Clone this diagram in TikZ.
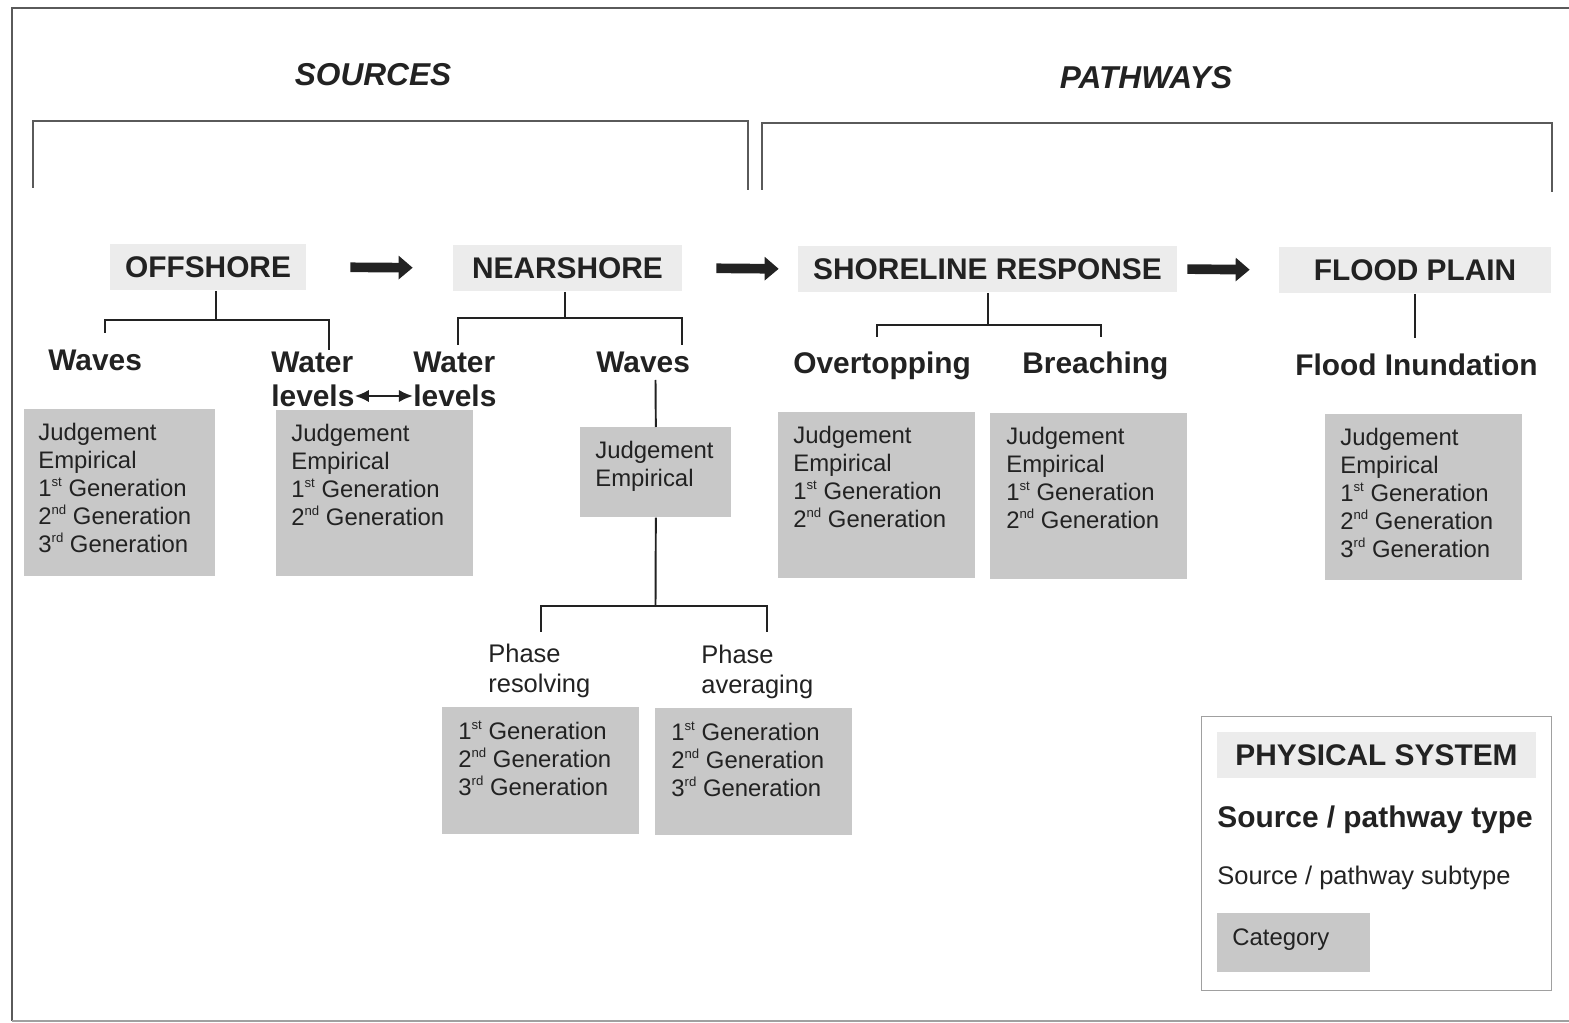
\documentclass[tikz,border=0pt]{standalone}
\usepackage{fontspec}
\setmainfont{Liberation Sans}
\usetikzlibrary{arrows.meta, positioning}

\definecolor{inkgray}{HTML}{222222}
\definecolor{hdrfill}{HTML}{ECECEC}
\definecolor{catfill}{HTML}{C8C8C8}
\definecolor{framegray}{HTML}{5A5A5A}
\definecolor{leggray}{HTML}{A0A0A0}

\newcommand{\gen}[2]{#1\raisebox{0.42em}{\fontsize{7.5}{8}\selectfont #2} Generation}

\tikzset{
  title/.style={font=\fontsize{18}{20}\selectfont\bfseries\itshape, text=inkgray},
  hdr/.style={fill=hdrfill, text=inkgray, font=\fontsize{17}{19}\selectfont\bfseries, minimum height=0.94cm, inner sep=0pt},
  typelbl/.style={anchor=west, inner sep=0pt, align=left, text=inkgray, font=\fontsize{17}{19.3}\selectfont\bfseries},
  sublbl/.style={anchor=west, inner sep=0pt, align=left, text=inkgray, font=\fontsize{14.5}{17}\selectfont},
  catbox/.style={anchor=north west, fill=catfill, minimum width=3.94cm, minimum height=3.32cm, inner sep=0pt},
  catlines/.style={anchor=north west, inner sep=0pt, align=left, text=inkgray, font=\fontsize{13.6}{15.9}\selectfont},
  tree/.style={draw=inkgray, line width=1.1pt},
  bigarrow/.style={draw=inkgray, line width=5.5pt, -{Triangle[length=8pt, width=13pt]}},
  dblarrow/.style={draw=inkgray, line width=1.3pt, {Latex[length=8pt, width=7pt]}-{Latex[length=8pt, width=7pt]}}
}

\begin{document}
\begin{tikzpicture}[x=0.02cm, y=-0.02cm]
        \useasboundingbox (0,0) rectangle (1569,1023);

        % Frame and brackets
        \draw[framegray, line width=1.2pt] (1569,8) -- (12,8) -- (12,1021);
        \draw[leggray, line width=0.8pt] (12,1021) -- (1569,1021);
        \draw[framegray, line width=1.1pt] (33,188) |- (748,121) -- (748,190);
        \draw[framegray, line width=1.1pt] (762,190) |- (1552,123) -- (1552,192);

        % Titles
        \node[title] (srctitle) at (373,75) {SOURCES};
        \node[title] (pathtitle) at (1146,78) {PATHWAYS};

        % Physical systems
        \node[hdr, minimum width=3.92cm] (offshore) at (208,267) {OFFSHORE};
        \node[hdr, minimum width=4.58cm] (nearshore) at (567.5,268) {NEARSHORE};
        \node[hdr, minimum width=7.58cm] (shoreline) at (987.5,269) {SHORELINE RESPONSE};
        \node[hdr, minimum width=5.44cm] (flood) at (1415,270) {FLOOD PLAIN};

        \draw[bigarrow, shorten <=0.88cm, shorten >=0.8cm] (offshore.east) -- (nearshore.west);
        \draw[bigarrow, shorten <=0.68cm, shorten >=0.38cm] (nearshore.east) -- (shoreline.west);
        \draw[bigarrow, shorten <=0.2cm, shorten >=0.58cm] (shoreline.east) -- (flood.west);

        % Source / pathway types
        \node[typelbl] (offwaves) at (48,360) {Waves};
        \node[typelbl] (offwl) at (271,379) {Water\\levels};
        \node[typelbl] (nearwl) at (413,379) {Water\\levels};
        \node[typelbl] (nearwaves) at (596,362) {Waves};
        \node[typelbl] (overtop) at (793,366) {Overtopping};
        \node[typelbl] (breach) at (1022,366) {Breaching};
        \node[typelbl] (inund) at (1295,365) {Flood Inundation};

        \draw[dblarrow] ([yshift=-0.34cm]offwl.east) -- ([yshift=-0.34cm]nearwl.west);

        % Tree lines
        \coordinate (offJ) at (216,320);
        \coordinate (offL) at (105,333);
        \coordinate (offR) at (329,350);
        \draw[tree] (offshore.south -| offJ) -- (offJ);
        \draw[tree] (offL) |- (offJ) -| (offR);

        \coordinate (nearJ) at (565,318);
        \coordinate (nearL) at (458,345);
        \coordinate (nearR) at (682,345);
        \draw[tree] (nearshore.south -| nearJ) -- (nearJ);
        \draw[tree] (nearL) |- (nearJ) -| (nearR);

        \coordinate (shoreJ) at (988,325);
        \coordinate (shoreL) at (877,337);
        \coordinate (shoreR) at (1101,337);
        \draw[tree] (shoreline.south -| shoreJ) -- (shoreJ);
        \draw[tree] (shoreL) |- (shoreJ) -| (shoreR);

        \coordinate (floodE) at (1415,338);
        \draw[tree] (flood.south) -- (floodE);

        % Categories
        \node[catbox, minimum width=3.82cm, minimum height=3.34cm] (offbox) at (24,409) {};
        \node[catlines] (offtxt) at ([shift={(14,14)}]offbox.north west) {Judgement\\Empirical\\\gen{1}{st}\\\gen{2}{nd}\\\gen{3}{rd}};

        \node[catbox] (nwlbox) at (276,410) {};
        \node[catlines] (nwltxt) at ([shift={(15,14)}]nwlbox.north west) {Judgement\\Empirical\\\gen{1}{st}\\\gen{2}{nd}};

        \node[catbox, minimum width=3.02cm, minimum height=1.8cm] (nwavbox) at (580,427) {};
        \node[catlines] (nwavtxt) at ([shift={(15,14)}]nwavbox.north west) {Judgement\\Empirical};

        \coordinate (wavTop) at (655.5,380);
        \draw[tree] (wavTop) -- (nwavbox.north);

        \coordinate (phJ) at (655.5,606);
        \coordinate (phL) at (541,632);
        \coordinate (phR) at (767,632);
        \draw[tree] (nwavbox.south) -- (phJ);
        \draw[tree] (phL) |- (phJ) -| (phR);

        \node[sublbl] (phres) at (488,671) {Phase\\resolving};
        \node[sublbl] (phavg) at (701,672) {Phase\\averaging};

        \node[catbox, minimum height=2.54cm] (resbox) at (442,707) {};
        \node[catlines] (restxt) at ([shift={(16,14)}]resbox.north west) {\gen{1}{st}\\\gen{2}{nd}\\\gen{3}{rd}};
        \node[catbox, minimum height=2.54cm] (avgbox) at (655,708) {};
        \node[catlines] (avgtxt) at ([shift={(16,14)}]avgbox.north west) {\gen{1}{st}\\\gen{2}{nd}\\\gen{3}{rd}};

        \node[catbox] (ovbox) at (778,412) {};
        \node[catlines] (ovtxt) at ([shift={(15,14)}]ovbox.north west) {Judgement\\Empirical\\\gen{1}{st}\\\gen{2}{nd}};
        \node[catbox] (brbox) at (990,413) {};
        \node[catlines] (brtxt) at ([shift={(16,14)}]brbox.north west) {Judgement\\Empirical\\\gen{1}{st}\\\gen{2}{nd}};
        \node[catbox] (flbox) at (1325,414) {};
        \node[catlines] (fltxt) at ([shift={(15,14)}]flbox.north west) {Judgement\\Empirical\\\gen{1}{st}\\\gen{2}{nd}\\\gen{3}{rd}};

        % Legend
        \node[draw=leggray, line width=0.8pt, anchor=north west, minimum width=7cm, minimum height=5.48cm, inner sep=0pt] (legend) at (1201,716) {};
        \node[hdr, minimum width=6.38cm] (legsys) at (1376.5,755) {PHYSICAL SYSTEM};
        \node[typelbl] (legtype) at (1217,820) {Source / pathway type};
        \node[sublbl] (legsub) at (1217,878) {Source / pathway subtype};
        \node[catbox, minimum width=3.06cm, minimum height=1.18cm] (legcat) at (1217,913) {};
        \node[catlines] (legcattxt) at ([shift={(15,15)}]legcat.north west) {Category};
    \end{tikzpicture}
\end{document}
